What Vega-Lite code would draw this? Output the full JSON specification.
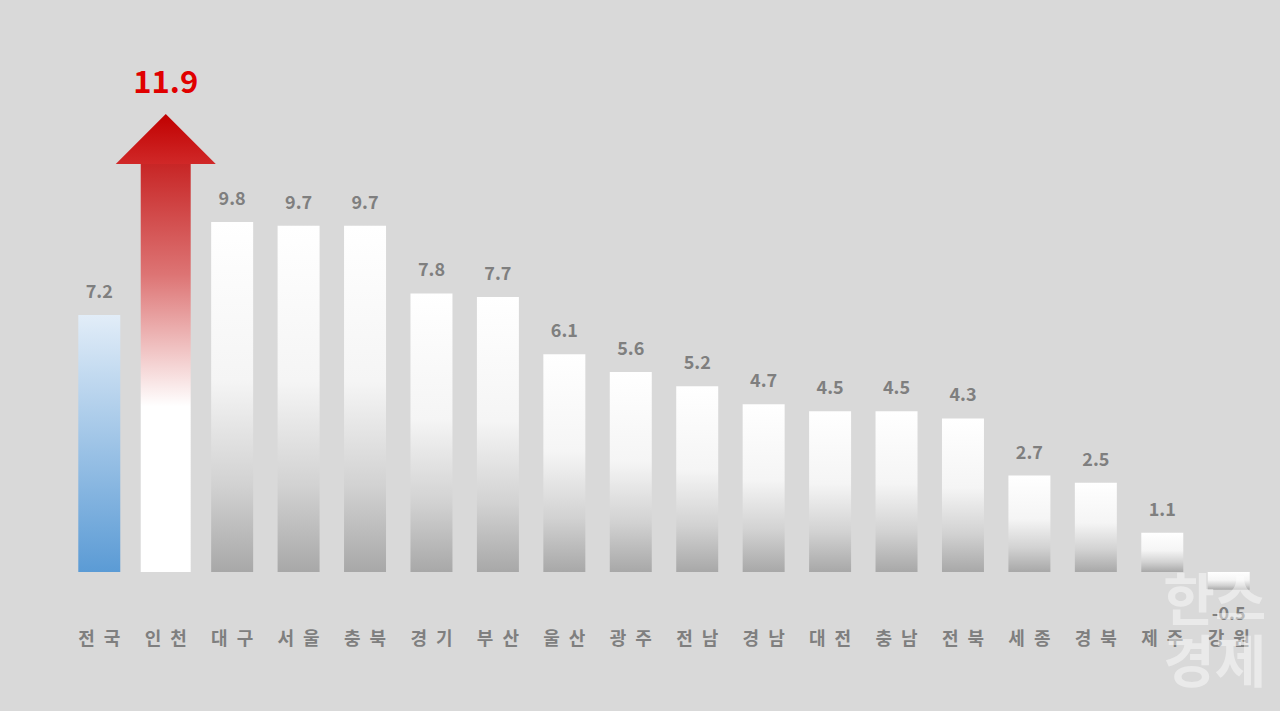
{
  "$schema": "https://vega.github.io/schema/vega-lite/v6.json",
  "width": 1198,
  "height": 620,
  "autosize": {"type": "none"},
  "padding": {"left": 65, "right": 17, "top": 0, "bottom": 91},
  "background": "#d9d9d9",
  "config": {"view": {"stroke": null}, "font": "Noto Sans CJK KR"},
  "data": {
    "values": [
      {"region": "전국", "value": 7.2, "group": "total"},
      {"region": "인천", "value": 11.9, "group": "highlight"},
      {"region": "대구", "value": 9.8, "group": "other"},
      {"region": "서울", "value": 9.7, "group": "other"},
      {"region": "충북", "value": 9.7, "group": "other"},
      {"region": "경기", "value": 7.8, "group": "other"},
      {"region": "부산", "value": 7.7, "group": "other"},
      {"region": "울산", "value": 6.1, "group": "other"},
      {"region": "광주", "value": 5.6, "group": "other"},
      {"region": "전남", "value": 5.2, "group": "other"},
      {"region": "경남", "value": 4.7, "group": "other"},
      {"region": "대전", "value": 4.5, "group": "other"},
      {"region": "충남", "value": 4.5, "group": "other"},
      {"region": "전북", "value": 4.3, "group": "other"},
      {"region": "세종", "value": 2.7, "group": "other"},
      {"region": "경북", "value": 2.5, "group": "other"},
      {"region": "제주", "value": 1.1, "group": "other"},
      {"region": "강원", "value": -0.5, "group": "other"}
    ]
  },
  "encoding": {
    "x": {
      "field": "region",
      "type": "nominal",
      "sort": null,
      "scale": {
        "domain": ["전국", "인천", "대구", "서울", "충북", "경기", "부산", "울산", "광주", "전남", "경남", "대전", "충남", "전북", "세종", "경북", "제주", "강원"],
        "paddingInner": 0.368,
        "paddingOuter": 0.2
      },
      "axis": {
        "title": null,
        "ticks": false,
        "domain": false,
        "labelAngle": 0,
        "labelPadding": 10,
        "labelFontSize": 18,
        "labelFontWeight": "bold",
        "labelColor": "#7f7f7f",
        "labelExpr": "slice(datum.label, 0, 1) + '\u2002' + slice(datum.label, 1)"
      }
    },
    "y": {
      "field": "value",
      "type": "quantitative",
      "scale": {"domain": [-1.345, 16.02], "nice": false, "zero": false},
      "axis": null
    }
  },
  "layer": [
    {
      "transform": [{"filter": "datum.group === 'other'"}],
      "mark": {
        "type": "bar",
        "color": {
          "gradient": "linear", "x1": 0, "y1": 0, "x2": 0, "y2": 1,
          "stops": [
            {"offset": 0, "color": "#ffffff"},
            {"offset": 0.45, "color": "#f5f5f5"},
            {"offset": 0.75, "color": "#d2d2d2"},
            {"offset": 1, "color": "#a8a8a8"}
          ]
        }
      },
      "encoding": {"y2": {"datum": 0}}
    },
    {
      "transform": [{"filter": "datum.group === 'total'"}],
      "mark": {
        "type": "bar",
        "color": {
          "gradient": "linear", "x1": 0, "y1": 0, "x2": 0, "y2": 1,
          "stops": [
            {"offset": 0, "color": "#e2edf8"},
            {"offset": 1, "color": "#5b9bd5"}
          ]
        }
      },
      "encoding": {"y2": {"datum": 0}}
    },
    {
      "transform": [{"filter": "datum.group === 'highlight'"}],
      "mark": {
        "type": "bar",
        "width": {"band": 1.19},
        "color": {
          "gradient": "linear", "x1": 0, "y1": 0, "x2": 0, "y2": 1,
          "stops": [
            {"offset": 0, "color": "#c41a1a"},
            {"offset": 0.3, "color": "#dd7474"},
            {"offset": 0.61, "color": "#ffffff"},
            {"offset": 1, "color": "#ffffff"}
          ]
        }
      },
      "encoding": {"y2": {"datum": 0}}
    },
    {
      "transform": [{"filter": "datum.group === 'highlight'"}],
      "mark": {
        "type": "point",
        "shape": "M0,-0.5L1,0.5L-1,0.5Z",
        "size": 10000,
        "filled": true,
        "opacity": 1,
        "strokeWidth": 0,
        "yOffset": -8,
        "color": {
          "gradient": "linear", "x1": 0, "y1": 0, "x2": 0, "y2": 1,
          "stops": [
            {"offset": 0, "color": "#c00000"},
            {"offset": 1, "color": "#d02828"}
          ]
        }
      }
    },
    {
      "transform": [{"filter": "datum.group !== 'highlight' && datum.value >= 0"}],
      "mark": {"type": "text", "baseline": "middle", "dy": -22, "fontSize": 18, "fontWeight": "bold", "color": "#7f7f7f"},
      "encoding": {"text": {"field": "value", "type": "nominal"}}
    },
    {
      "transform": [{"filter": "datum.value < 0"}],
      "mark": {"type": "text", "baseline": "middle", "dy": 25, "fontSize": 18, "fontWeight": "bold", "color": "#7f7f7f"},
      "encoding": {"text": {"field": "value", "type": "nominal"}}
    },
    {
      "transform": [{"filter": "datum.group === 'highlight'"}],
      "mark": {"type": "text", "baseline": "middle", "dy": -63, "fontSize": 31, "fontWeight": "bold", "color": "#e00000"},
      "encoding": {"text": {"field": "value", "type": "nominal"}}
    },
    {
      "data": {"values": [{"region": "강원", "wm": "한스\n경제", "pos": -0.87}]},
      "mark": {
        "type": "text",
        "lineBreak": "\n",
        "fontSize": 56,
        "fontWeight": "bold",
        "lineHeight": 62,
        "baseline": "middle",
        "color": "#ffffff",
        "opacity": 0.45,
        "xOffset": -14
      },
      "encoding": {
        "y": {"field": "pos", "type": "quantitative"},
        "text": {"field": "wm", "type": "nominal"}
      }
    }
  ]
}
